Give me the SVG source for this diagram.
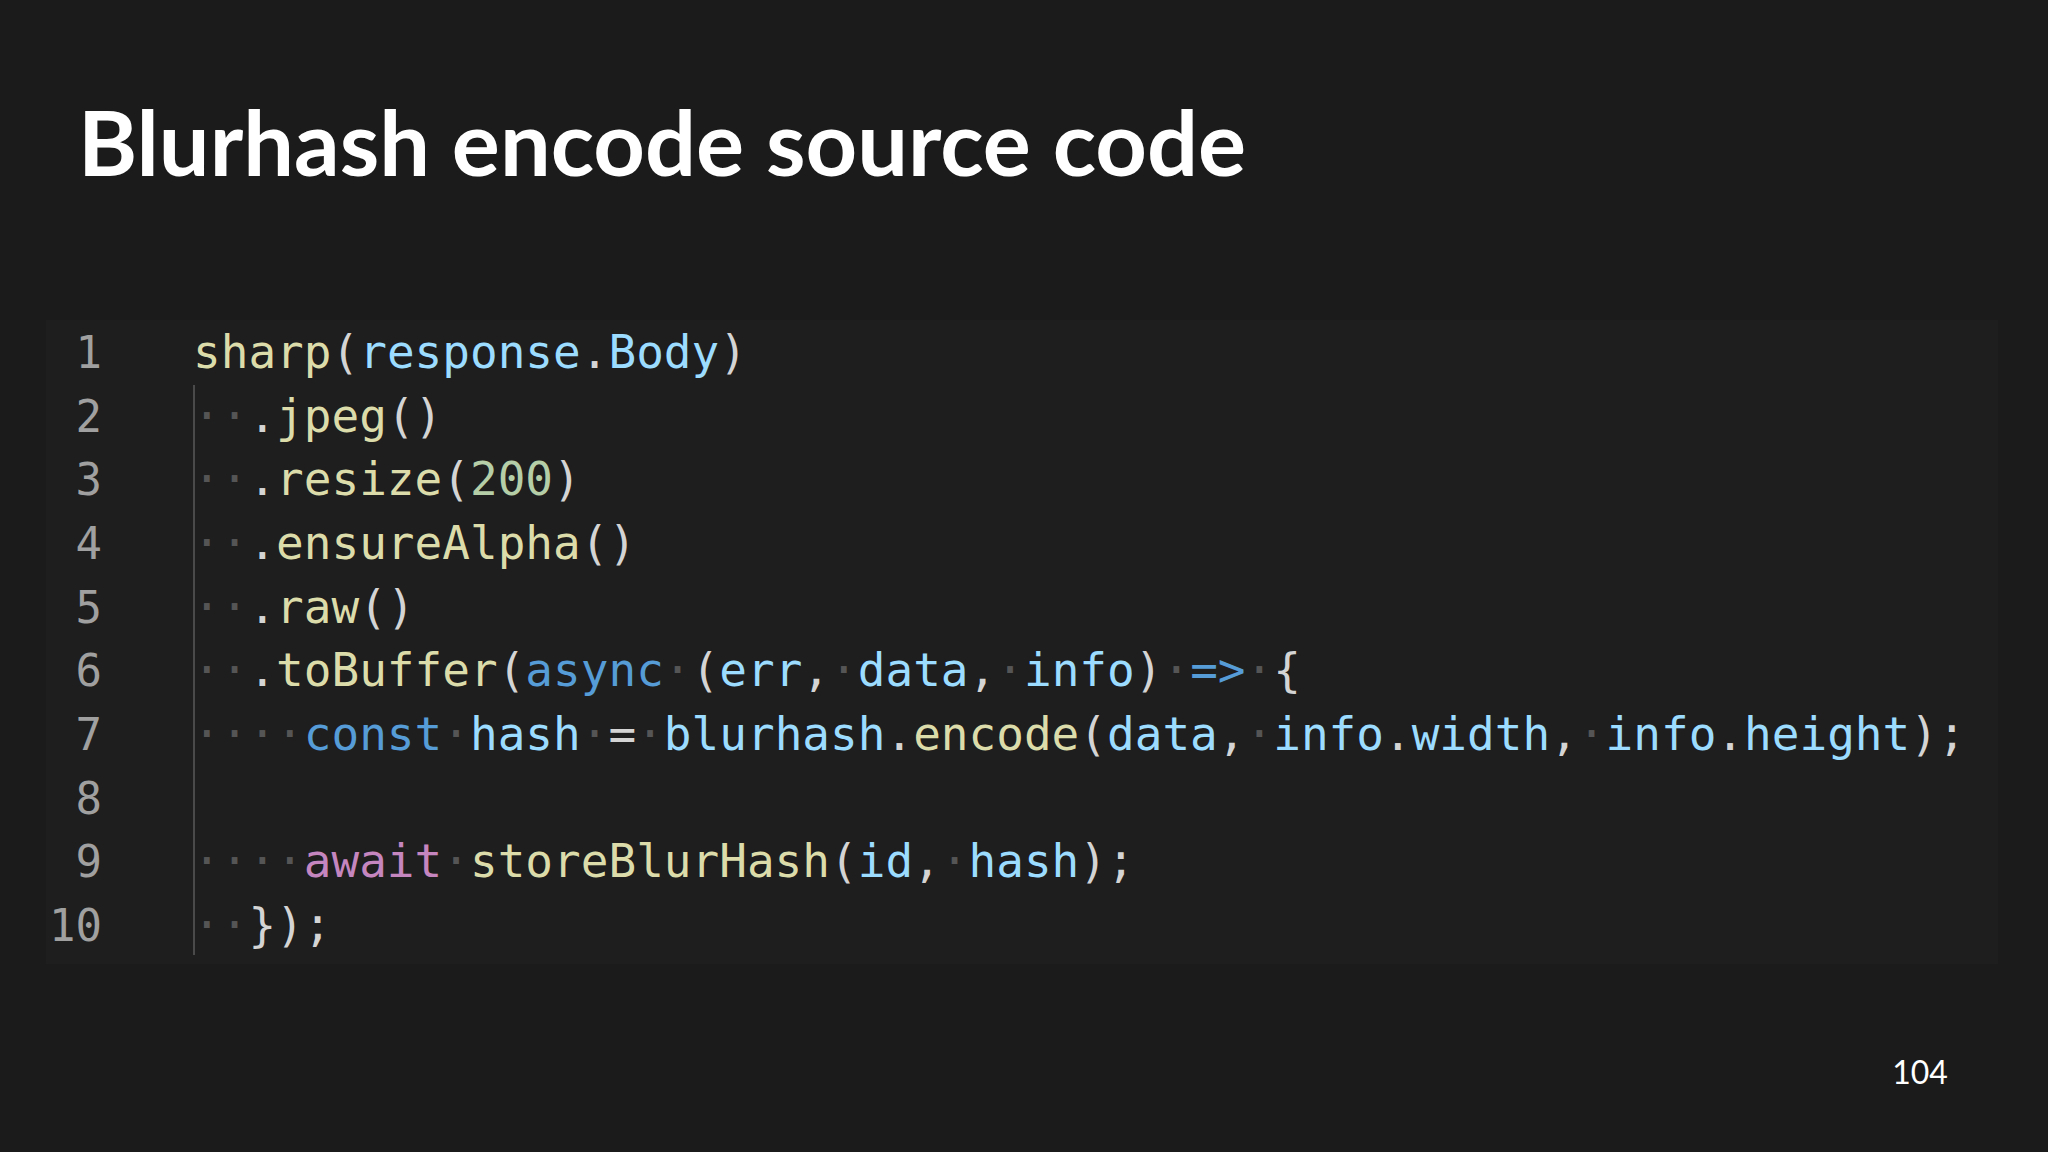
<svg xmlns="http://www.w3.org/2000/svg" width="2048" height="1152" viewBox="0 0 2048 1152">
<style>
.t{font-family:"Lato","Liberation Sans",sans-serif;font-weight:bold;fill:#fff}
.c{font-family:"DejaVu Sans Mono","Liberation Mono",monospace;font-size:46px;fill:#d4d4d4;white-space:pre}
.n{font-family:"DejaVu Sans Mono","Liberation Mono",monospace;font-size:44px;fill:#a0a0a0;text-anchor:end}
.d{fill:#555}.f{fill:#dcdcaa}.v{fill:#9cdcfe}.k{fill:#569cd6}.p{fill:#c586c0}.m{fill:#b5cea8}
</style>
<rect width="2048" height="1152" fill="#1b1b1b"/>
<g id="title"><text class="t" x="78" y="176" font-size="90">Blurhash encode source code</text></g>
<g id="code">
<rect x="46" y="320" width="1952" height="644" fill="#1e1e1e"/>
<line x1="194" y1="385" x2="194" y2="955" stroke="#4a4a4a" stroke-width="2"/>
<g class="n">
<text x="102" y="368">1</text><text x="102" y="432">2</text><text x="102" y="495">3</text><text x="102" y="559">4</text><text x="102" y="623">5</text><text x="102" y="686">6</text><text x="102" y="750">7</text><text x="102" y="814">8</text><text x="102" y="877">9</text><text x="102" y="941">10</text>
</g>
<g xml:space="preserve">
<text class="c" x="193" y="368"><tspan class="f">sharp</tspan>(<tspan class="v">response</tspan>.<tspan class="v">Body</tspan>)</text>
<text class="c" x="193" y="432"><tspan class="d">··</tspan>.<tspan class="f">jpeg</tspan>()</text>
<text class="c" x="193" y="495"><tspan class="d">··</tspan>.<tspan class="f">resize</tspan>(<tspan class="m">200</tspan>)</text>
<text class="c" x="193" y="559"><tspan class="d">··</tspan>.<tspan class="f">ensureAlpha</tspan>()</text>
<text class="c" x="193" y="623"><tspan class="d">··</tspan>.<tspan class="f">raw</tspan>()</text>
<text class="c" x="193" y="686"><tspan class="d">··</tspan>.<tspan class="f">toBuffer</tspan>(<tspan class="k">async</tspan><tspan class="d">·</tspan>(<tspan class="v">err</tspan>,<tspan class="d">·</tspan><tspan class="v">data</tspan>,<tspan class="d">·</tspan><tspan class="v">info</tspan>)<tspan class="d">·</tspan><tspan class="k">=&gt;</tspan><tspan class="d">·</tspan>{</text>
<text class="c" x="193" y="750"><tspan class="d">····</tspan><tspan class="k">const</tspan><tspan class="d">·</tspan><tspan class="v">hash</tspan><tspan class="d">·</tspan>=<tspan class="d">·</tspan><tspan class="v">blurhash</tspan>.<tspan class="f">encode</tspan>(<tspan class="v">data</tspan>,<tspan class="d">·</tspan><tspan class="v">info</tspan>.<tspan class="v">width</tspan>,<tspan class="d">·</tspan><tspan class="v">info</tspan>.<tspan class="v">height</tspan>);</text>
<text class="c" x="193" y="877"><tspan class="d">····</tspan><tspan class="p">await</tspan><tspan class="d">·</tspan><tspan class="f">storeBlurHash</tspan>(<tspan class="v">id</tspan>,<tspan class="d">·</tspan><tspan class="v">hash</tspan>);</text>
<text class="c" x="193" y="941"><tspan class="d">··</tspan>});</text>
</g>
</g>
<g id="page"><text x="1920" y="1084" font-family="Lato,'Liberation Sans',sans-serif" font-size="32" fill="#fff" text-anchor="middle">104</text></g>
</svg>
